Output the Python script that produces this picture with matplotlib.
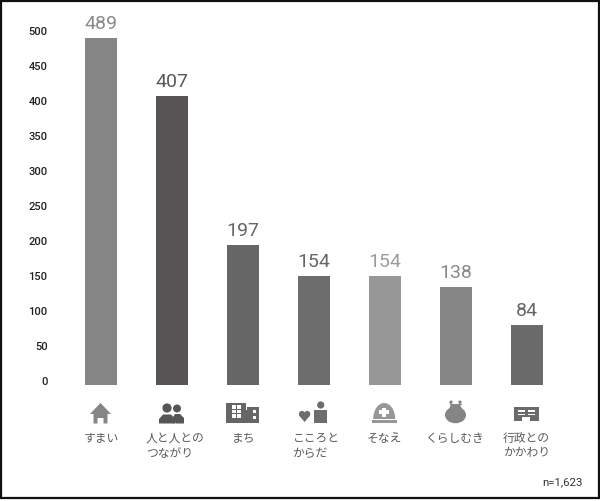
import matplotlib
matplotlib.use('Agg')
import matplotlib.pyplot as plt
from matplotlib.patches import Polygon, Rectangle, Circle, Ellipse

plt.rcParams['font.family'] = ['Noto Sans CJK JP', 'DejaVu Sans']

# Data
categories = ['すまい', '人と人との\nつながり', 'まち', 'こころと\nからだ', 'そなえ', 'くらしむき', '行政との\nかかわり']
values = [489, 407, 197, 154, 154, 138, 84]
bar_colors = ['#858585', '#585556', '#666666', '#6d6d6d', '#979797', '#858585', '#6a6a6a']
text_colors = ['#8a8a8a', '#585858', '#666666', '#666666', '#9c9c9c', '#8a8a8a', '#666666']
yticks = [0, 50, 100, 150, 200, 250, 300, 350, 400, 450, 500]
note = 'n=1,623'

W, H = 600, 501
fig = plt.figure(figsize=(6, 5.01), dpi=100, facecolor='white')

# chart axes: value 0 sits at y=385px, 500 at y=30px
ax = fig.add_axes([65.5 / W, 1 - 385 / H, 497 / W, 355 / H])
x = list(range(len(values)))
ax.bar(x, values, width=0.44, color=bar_colors)
ax.set_xlim(-0.5, 6.5)
ax.set_ylim(0, 500)
ax.set_xticks([])
ax.set_yticks([])
for s in ax.spines.values():
    s.set_visible(False)
ax.patch.set_alpha(0)
for i, v in enumerate(values):
    ax.annotate(str(v), (i, v), xytext=(0, 6.5), textcoords='offset points', ha='center', va='baseline',
                fontsize=14, color=text_colors[i], family='Roboto', clip_on=False)

# the tick labels in the picture run a little tighter than the bars, so they get their own axis
tick_ax = fig.add_axes([47.5 / W, 1 - 381 / H, 10 / W, 350 / H])
tick_ax.set_ylim(0, 500)
tick_ax.set_xticks([])
tick_ax.set_yticks(yticks)
tick_ax.tick_params(axis='y', length=0, pad=0, labelsize=8, labelcolor='#222222')
for lab in tick_ax.get_yticklabels():
    lab.set_family('Roboto')
    lab.set_fontweight('medium')
for s in tick_ax.spines.values():
    s.set_visible(False)
tick_ax.patch.set_alpha(0)

# overlay in pixel coordinates for frame, icons and captions
ov = fig.add_axes([0, 0, 1, 1])
ov.set_xlim(0, W)
ov.set_ylim(H, 0)
ov.axis('off')
ov.patch.set_alpha(0)

ov.add_patch(Rectangle((0.5, 0.8), W - 1.5, 497.5, fill=False, ec='#111111', lw=1.6))

def poly(pts, c):
    ov.add_patch(Polygon(pts, closed=True, fc=c, ec='none'))

def rect(x0, y0, w, h, c):
    ov.add_patch(Rectangle((x0, y0), w, h, fc=c, ec='none'))

def circ(cx, cy, r, c):
    ov.add_patch(Circle((cx, cy), r, fc=c, ec='none'))

# house
c = bar_colors[0]
poly([(90, 414), (100.5, 403), (111, 414), (107.5, 414), (107.5, 423.5), (103.5, 423.5), (103.5, 418), (97.5, 418),
      (97.5, 423.5), (93.5, 423.5), (93.5, 414)], c)
# two people
c = bar_colors[1]
circ(177, 408.5, 4, c)
poly([(173, 423.5), (173, 417), (175, 414), (180, 414), (184, 418), (184, 423.5)], c)
poly([(172, 423.5), (172, 419), (176, 423.5)], 'white')
circ(167, 408, 4.6, c)
poly([(159, 423.5), (159, 419), (163, 414.5), (171, 414.5), (175, 419), (175, 423.5)], c)
# buildings
c = bar_colors[2]
rect(226, 403, 19.5, 20, c)
rect(245.5, 410, 1.5, 13, c)
rect(247, 407, 11.5, 16, c)
for cx in (232, 237):
    for cy in (405, 409.5, 414):
        rect(cx, cy, 3.5, 3.5, 'white')
for cy in (410, 416):
    rect(252.5, cy, 3, 3, 'white')
# heart and person
c = bar_colors[3]
circ(302, 414, 3.1, c)
circ(307.2, 414, 3.1, c)
poly([(299.1, 415.5), (304.6, 422), (310.1, 415.5), (304.6, 413)], c)
circ(320.7, 405, 3.6, c)
rect(314, 410, 13, 12.5, c)
# helmet
c = bar_colors[4]
ov.add_patch(Ellipse((384.2, 419), 22, 32, fc=c, ec='none'))
rect(370, 418.7, 28, 18, 'white')
rect(372, 420, 24.5, 2.6, c)
rect(381.7, 407.5, 4, 9, 'white')
rect(378.5, 410.2, 10.5, 3.6, 'white')
# purse
c = bar_colors[5]
ov.add_patch(Ellipse((455.5, 415), 21, 16.5, fc=c, ec='none'))
poly([(451, 404.5), (460, 404.5), (462, 409), (449, 409)], c)
rect(449.5, 403.7, 12, 1.5, c)
circ(451, 402.2, 1.7, c)
circ(460, 402.2, 1.7, c)
# office
c = bar_colors[6]
rect(514, 407, 24.5, 14, c)
rect(522, 417, 8, 4, 'white')
for x0 in (518, 527.5):
    rect(x0, 410, 7, 1.5, 'white')
    rect(x0, 413.5, 7, 1.5, 'white')

# captions
cap_left = [83.5, 146, 231.5, 292.5, 366.5, 426, 503]
for xp, label in zip(cap_left, categories):
    ov.text(xp, 431.5, label, fontsize=8.5, color='#5a5a5a', ha='left', va='top', linespacing=1.2)
ov.text(583, 487, note, fontsize=8.2, color='#333333', ha='right', va='bottom', family='Roboto')

fig.savefig('out.png', dpi=100)
